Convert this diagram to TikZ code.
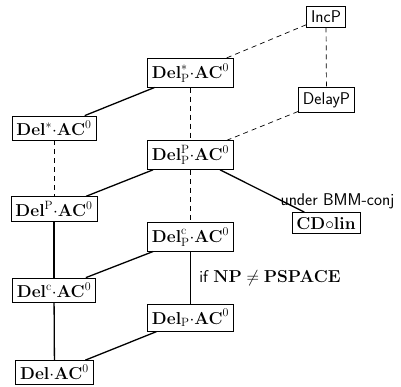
\documentclass[tikz,border=0pt]{standalone}
\usepackage{amsmath}
\begin{document}
\begin{tikzpicture}[x=1pt,y=1pt,
  box/.style={draw,line width=0.8pt,inner sep=4.5pt,font=\fontsize{17}{20}\selectfont,fill=white},
  sbox/.style={box,font=\fontsize{17}{20}\selectfont\sffamily},
  solid line/.style={line width=1.3pt},
  dash line/.style={line width=0.7pt,dash pattern=on 5pt off 4pt},
  lbl/.style={font=\fontsize{17}{20}\selectfont\sffamily}]
\useasboundingbox (0,0) rectangle (401,386);
\node[sbox] (incp) at (326,369.5) {IncP};
\node[box] (delsp) at (190.5,313) {$\mathbf{Del}^{*}_{\mathrm{P}}{\cdot}\mathbf{AC}^0$};
\node[sbox] (delayp) at (326.5,286) {DelayP};
\node[box] (dels) at (54,258) {$\mathbf{Del}^{*}{\cdot}\mathbf{AC}^0$};
\node[box] (delpp) at (190.5,231) {$\mathbf{Del}^{\mathrm{P}}_{\mathrm{P}}{\cdot}\mathbf{AC}^0$};
\node[box] (delP) at (54,177) {$\mathbf{Del}^{\mathrm{P}}{\cdot}\mathbf{AC}^0$};
\node[box] (cd) at (326,163) {$\mathbf{CD}{\circ}\mathbf{lin}$};
\node[box] (delcp) at (190.5,149) {$\mathbf{Del}^{\mathrm{c}}_{\mathrm{P}}{\cdot}\mathbf{AC}^0$};
\node[box] (delc) at (54,96) {$\mathbf{Del}^{\mathrm{c}}{\cdot}\mathbf{AC}^0$};
\node[box] (delp) at (190.5,68) {$\mathbf{Del}_{\mathrm{P}}{\cdot}\mathbf{AC}^0$};
\node[box] (del) at (54.5,13.5) {$\mathbf{Del}{\cdot}\mathbf{AC}^0$};
\draw[dash line] (incp) -- (delsp);
\draw[dash line] (incp) -- (delayp);
\draw[solid line] (delsp) -- (dels);
\draw[dash line] (delsp) -- (delpp);
\draw[dash line] (delayp) -- (delpp);
\draw[dash line] (dels) -- (delP);
\draw[solid line] (delpp) -- (delP);
\draw[dash line] (delpp) -- (delcp);
\draw[solid line] (delpp) -- (cd);
\draw[solid line] (delP) -- (delc);
\draw[solid line] (delcp) -- (delc);
\draw[solid line] (delcp) -- (delp);
\draw[solid line] (delc) -- (del);
\draw[solid line] (delp) -- (del);
\node[lbl] (l1) at (337.5,185) {under BMM-conj};
\node[lbl] (l2) at (270,108) {if $\mathbf{NP}\neq\mathbf{PSPACE}$};
\end{tikzpicture}
\end{document}
